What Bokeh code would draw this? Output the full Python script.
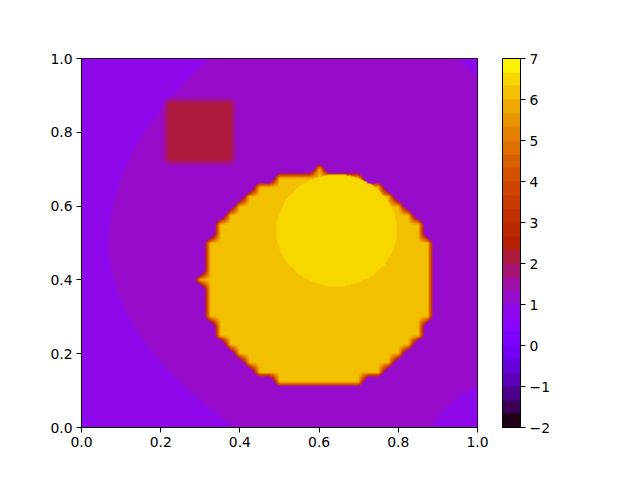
import numpy as np
from bokeh.plotting import figure
from bokeh.models import LinearColorMapper, ColorBar, FixedTicker, Range1d, PrintfTickFormatter
from bokeh.embed import file_html
from bokeh.resources import INLINE

# ---- data: contour levels and colour-bar ticks ----
level_min = -2.0
level_max = 7.0
n_bands = 27
cbar_ticks = [-2, -1, 0, 1, 2, 3, 4, 5, 6, 7]
cbar_labels = ["\u22122", "\u22121", "0", "1", "2", "3", "4", "5", "6", "7"]
axis_ticks = [0.0, 0.2, 0.4, 0.6, 0.8, 1.0]

# ---- data: shapes that make up the field ----
bg_inner_value = 1.17            # background inside the broad lens
bg_outer_value = 0.83            # background outside it
lens_left_vertex = [0.068, 0.50]  # left edge of the lens (parabola vertex)
lens_curv_upper = 1.02
lens_curv_lower = 1.27
corner_br = [1.10, -0.10, 0.235]  # bottom-right corner patch: cx, cy, r
corner_tr = [1.05, 1.05, 0.107]   # top-right corner patch

disk_center = [0.59975, 0.40025]  # coarse-grid disk
disk_radius = 0.30
disk_value = 6.15
disk_rim_value = 2.75
coarse_points = 41
edge_gain = 2.0

spot_center = [0.644, 0.534]     # bright inner disk
spot_radius = 0.152
spot_value = 6.5

square_x = [0.212, 0.386]
square_y = [0.716, 0.888]
square_soft = 0.008
square_value = 2.15

# ---- palette (matplotlib gnuplot colormap, band midpoints) ----
def gnuplot(x):
    idx = min(int(x * 256), 255)
    t = idx / 255.0
    r = np.sqrt(t)
    g = t ** 3
    b = np.sin(2 * np.pi * t)
    c = [min(max(v, 0.0), 1.0) for v in (r, g, b)]
    return "#%02x%02x%02x" % tuple(int(round(v * 255)) for v in c)

palette = [gnuplot((k + 0.5) / n_bands) for k in range(n_bands)]

# ---- build field ----
N = 400
xs = (np.arange(N) + 0.5) / N
X, Y = np.meshgrid(xs, xs)

curv = np.where(Y > lens_left_vertex[1], lens_curv_upper, lens_curv_lower)
x_left = lens_left_vertex[0] + curv * (Y - lens_left_vertex[1]) ** 2
in_lens = X > x_left
for cx, cy, cr in (corner_br, corner_tr):
    in_lens &= ((X - cx) ** 2 + (Y - cy) ** 2) > cr ** 2
z = np.where(in_lens, bg_inner_value, bg_outer_value)

g = np.linspace(0, 1, coarse_points)
GX, GY = np.meshgrid(g, g)
M = (((GX - disk_center[0]) ** 2 + (GY - disk_center[1]) ** 2) <= disk_radius ** 2).astype(float)
h = 1.0 / (coarse_points - 1)
u = X / h
v = Y / h
i0 = np.clip(np.floor(u).astype(int), 0, coarse_points - 2)
j0 = np.clip(np.floor(v).astype(int), 0, coarse_points - 2)
fx = u - i0
fy = v - j0
mi = (M[j0, i0] * (1 - fx) * (1 - fy) + M[j0, i0 + 1] * fx * (1 - fy)
      + M[j0 + 1, i0] * (1 - fx) * fy + M[j0 + 1, i0 + 1] * fx * fy)
ramp = np.clip((mi - 0.5) * edge_gain, 0, 1)
z = np.where(mi >= 0.5, disk_rim_value + (disk_value - disk_rim_value) * ramp, z)

inside = ((X - spot_center[0]) ** 2 + (Y - spot_center[1]) ** 2) <= spot_radius ** 2
z = np.where(inside, spot_value, z)

sx = 0.5 * (np.tanh((X - square_x[0]) / square_soft) - np.tanh((X - square_x[1]) / square_soft))
sy = 0.5 * (np.tanh((Y - square_y[0]) / square_soft) - np.tanh((Y - square_y[1]) / square_soft))
s = sx * sy
z = z + (square_value - z) * s

# ---- plot ----
FONT = "DejaVu Sans"
FS = "13.9px"

p = figure(output_backend="svg", toolbar_location=None,
           frame_width=396, frame_height=369,
           min_border_left=81, min_border_top=58, min_border_right=147, min_border_bottom=37,
           x_range=Range1d(0, 1), y_range=Range1d(0, 1))
p.background_fill_color = "white"
p.border_fill_color = "white"
p.grid.visible = False
p.outline_line_color = "black"
p.outline_line_width = 1.1

mapper = LinearColorMapper(palette=palette, low=level_min, high=level_max)
p.image(image=[z], x=0, y=0, dw=1, dh=1, color_mapper=mapper)

for ax in (p.xaxis, p.yaxis):
    ax.ticker = FixedTicker(ticks=axis_ticks)
    ax.formatter = PrintfTickFormatter(format="%.1f")
    ax.major_tick_out = 5
    ax.major_tick_in = 0
    ax.minor_tick_line_color = None
    ax.axis_line_color = "black"
    ax.major_tick_line_color = "black"
    ax.major_label_text_font = FONT
    ax.major_label_text_font_size = FS
    ax.major_label_text_color = "black"
    ax.major_label_standoff = 4

cb = ColorBar(color_mapper=mapper,
              ticker=FixedTicker(ticks=cbar_ticks),
              major_label_overrides={k: lab for k, lab in zip(cbar_ticks, cbar_labels)},
              width=18, height=369, padding=0, margin=0,
              location=(421, 0),
              bar_line_color="black", bar_line_width=1,
              major_tick_out=5, major_tick_in=0, major_tick_line_color="black",
              minor_tick_line_color=None,
              label_standoff=4,
              major_label_text_font=FONT, major_label_text_font_size=FS,
              major_label_text_color="black",
              background_fill_alpha=0, border_line_color=None)
p.add_layout(cb, "center")

open("out.html", "w").write(file_html(p, INLINE))
